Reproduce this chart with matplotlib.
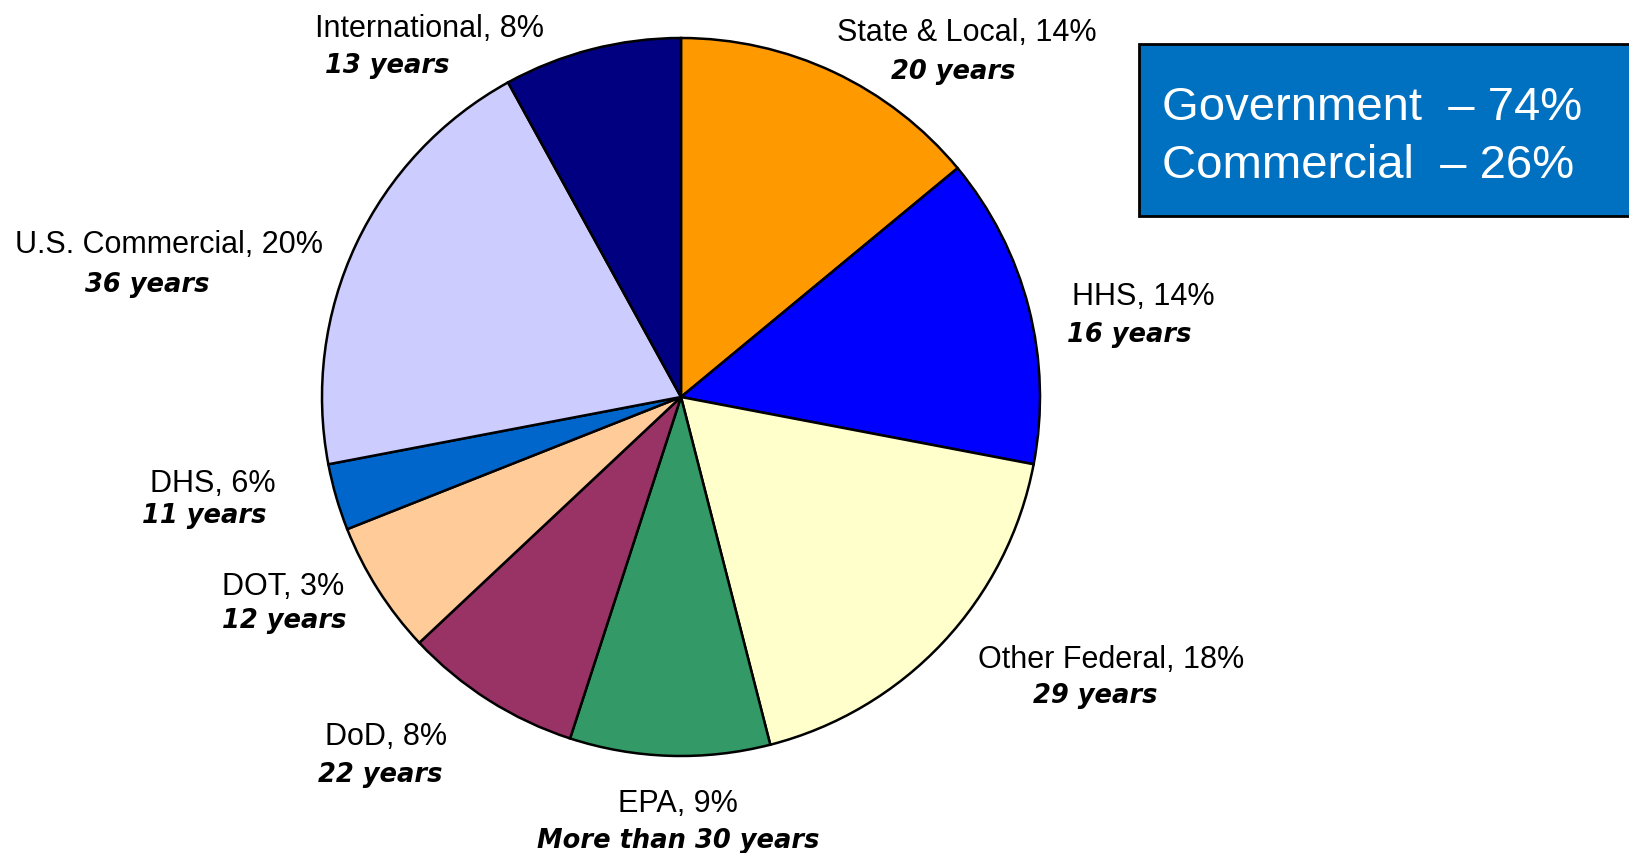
import matplotlib.pyplot as plt
from matplotlib.patches import Rectangle

# slices, clockwise from 12 o'clock
shares = [14, 14, 18, 9, 8, 6, 3, 20, 8]
names = ["State & Local", "HHS", "Other Federal", "EPA", "DoD",
         "DOT", "DHS", "U.S. Commercial", "International"]
printed_pct = ["14%", "14%", "18%", "9%", "8%", "3%", "6%", "20%", "8%"]
years = ["20 years", "16 years", "29 years", "More than 30 years", "22 years",
         "12 years", "11 years", "36 years", "13 years"]
colors = ["#FF9900", "#0000FF", "#FFFFCC", "#339966", "#993366",
          "#FFCC99", "#0066CC", "#CCCCFF", "#000080"]

summary = ["Government  \u2013 74%", "Commercial  \u2013 26%"]

# label placement in pixels (left x, baseline of name, x and baseline of years)
label_pos = [
    (837, 41, 891, 79),
    (1072, 305, 1067, 342),
    (978, 668, 1033, 703),
    (618, 812, 537, 848),
    (325, 745, 318, 782),
    (222, 595, 222, 628),
    (150, 492, 142, 523),
    (15, 253, 85, 292),
    (315, 37, 325, 73),
]

W, H = 1629, 854
fig = plt.figure(figsize=(W / 100, H / 100), dpi=100)
ax = fig.add_axes([0, 0, 1, 1])

ax.pie(shares, colors=colors, startangle=90, counterclock=False,
       center=(681, H - 398), radius=359, frame=True,
       wedgeprops=dict(edgecolor="black", linewidth=1.8))

for name, pct, yr, (x1, y1, x2, y2) in zip(names, printed_pct, years, label_pos):
    ax.text(x1, H - y1, f"{name}, {pct}", ha="left", va="baseline",
            fontsize=22, family="Liberation Sans")
    ax.text(x2, H - y2, yr, ha="left", va="baseline", fontsize=18.5,
            family="DejaVu Sans", fontweight="bold", fontstyle="italic")

ax.add_patch(Rectangle((1139, H - 217), 492, 172, facecolor="#0070C0",
                       edgecolor="black", linewidth=2, zorder=3))
for line, base in zip(summary, [120, 178]):
    ax.text(1162, H - base, line, ha="left", va="baseline", fontsize=34,
            family="Liberation Sans", color="white", zorder=4)

ax.set_xlim(0, W)
ax.set_ylim(0, H)
ax.set_aspect("equal")
ax.axis("off")

fig.savefig("out.png", dpi=100)
